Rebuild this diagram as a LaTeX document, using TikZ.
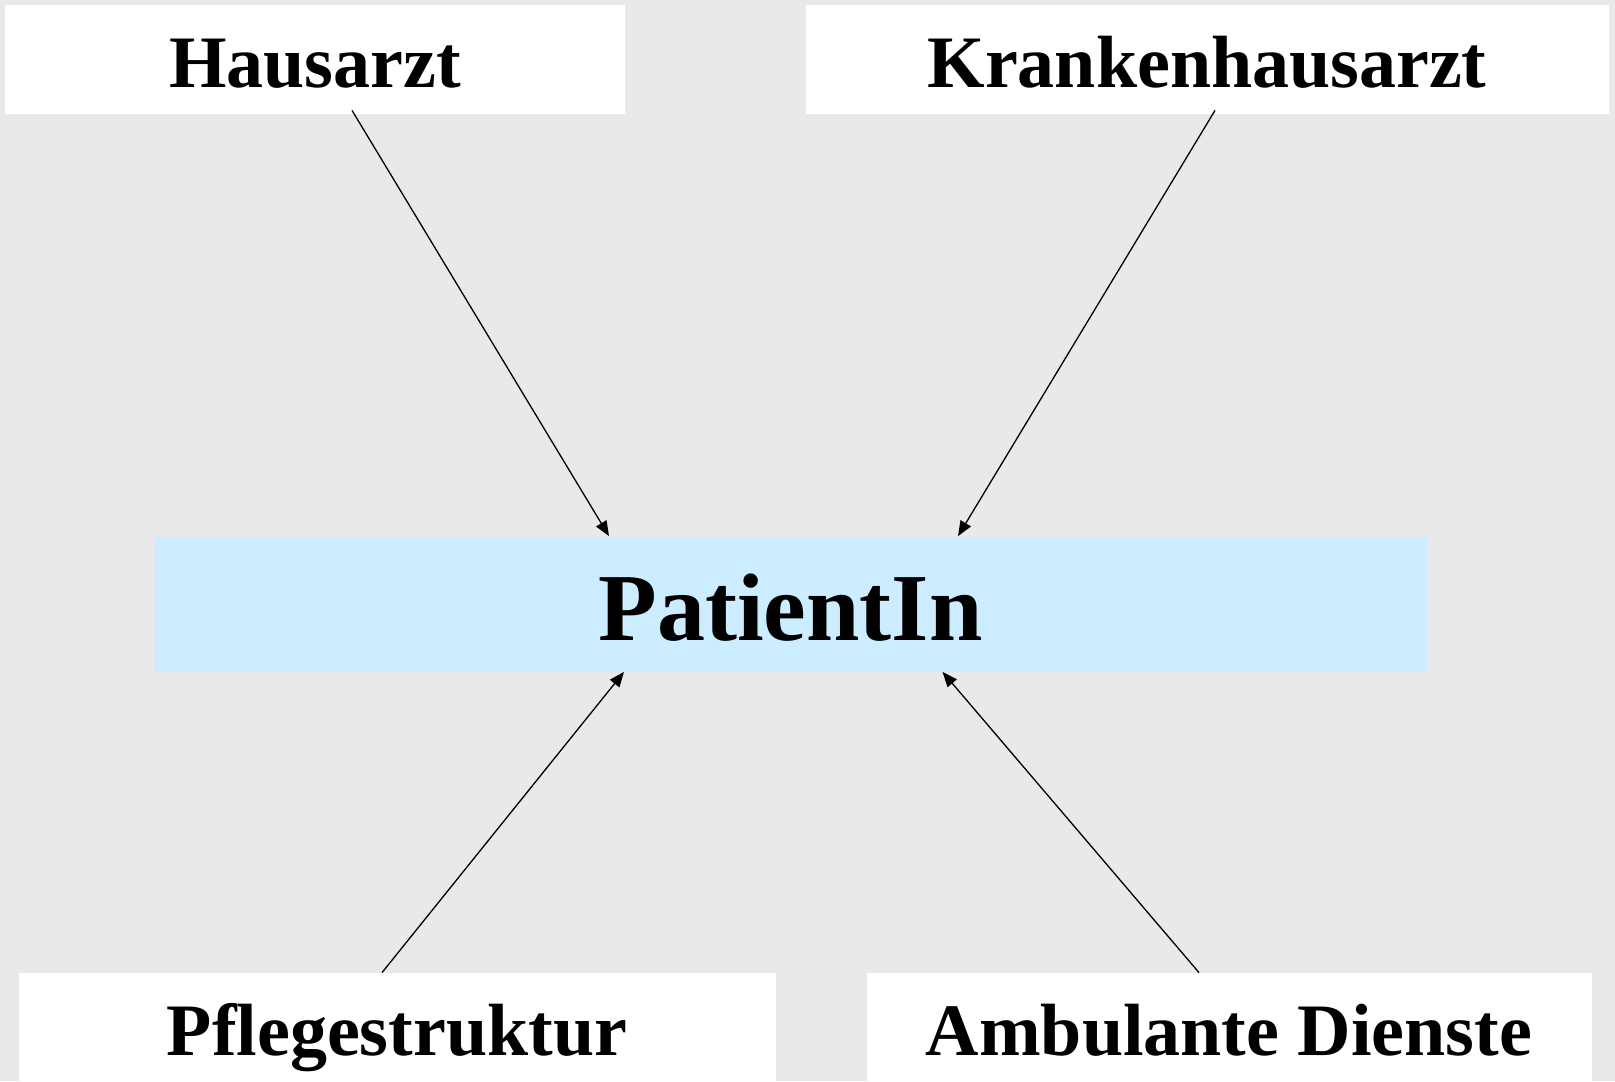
\documentclass[tikz,border=0pt]{standalone}
\usepackage{fontspec}
\setmainfont{Liberation Serif}
\usetikzlibrary{arrows.meta}
\definecolor{bggray}{RGB}{233,233,233}
\definecolor{patblue}{RGB}{204,236,255}
\begin{document}
\begin{tikzpicture}[x=0.5pt,y=-0.5pt,
  box/.style={draw=none,fill=white,rectangle,inner sep=0pt,minimum height=54.5pt},
  patbox/.style={draw=none,fill=patblue,rectangle,inner sep=0pt,minimum width=636pt,minimum height=67.5pt},
  lbl/.style={anchor=base,inner sep=0pt,font=\fontsize{37}{40}\selectfont\bfseries},
  patlbl/.style={anchor=base,inner sep=0pt,font=\fontsize{48}{52}\selectfont\bfseries},
  conn/.style={line width=0.65pt,-{Triangle[length=7.5pt,width=6pt]}}]
\fill[bggray] (0,0) rectangle (1615,1081);
\useasboundingbox (0,0) rectangle (1615,1081);
% boxes
\node[box,minimum width=310pt] (haus) at (315,59.5) {};
\node[box,minimum width=401.5pt] (kh) at (1207,59.5) {};
\node[patbox] (pat) at (790.5,604) {};
\node[box,minimum width=378.5pt,minimum height=54pt] (pf) at (397,1027) {};
\node[box,minimum width=362.5pt,minimum height=54pt] (amb) at (1229,1027) {};
% labels
\node[lbl] (hausT) at (315,87.5) {Hausarzt};
\node[lbl] (khT) at (1207,87.5) {Krankenhausarzt};
\node[patlbl] (patT) at (790.5,640.6) {PatientIn};
\node[lbl] (pfT) at (397,1055) {Pflegestruktur};
\node[lbl] (ambT) at (1229,1055) {Ambulante Dienste};
% connectors
\draw[conn] ([xshift=18.5pt,yshift=2pt]haus.south) -- ([xshift=-90.75pt]pat.north);
\draw[conn] ([xshift=4pt,yshift=2pt]kh.south) -- ([xshift=83.75pt]pat.north);
\draw[conn] ([xshift=-7.5pt]pf.north) -- ([xshift=-83.25pt]pat.south);
\draw[conn] ([xshift=-15pt]amb.north) -- ([xshift=76pt]pat.south);
\end{tikzpicture}
\end{document}
